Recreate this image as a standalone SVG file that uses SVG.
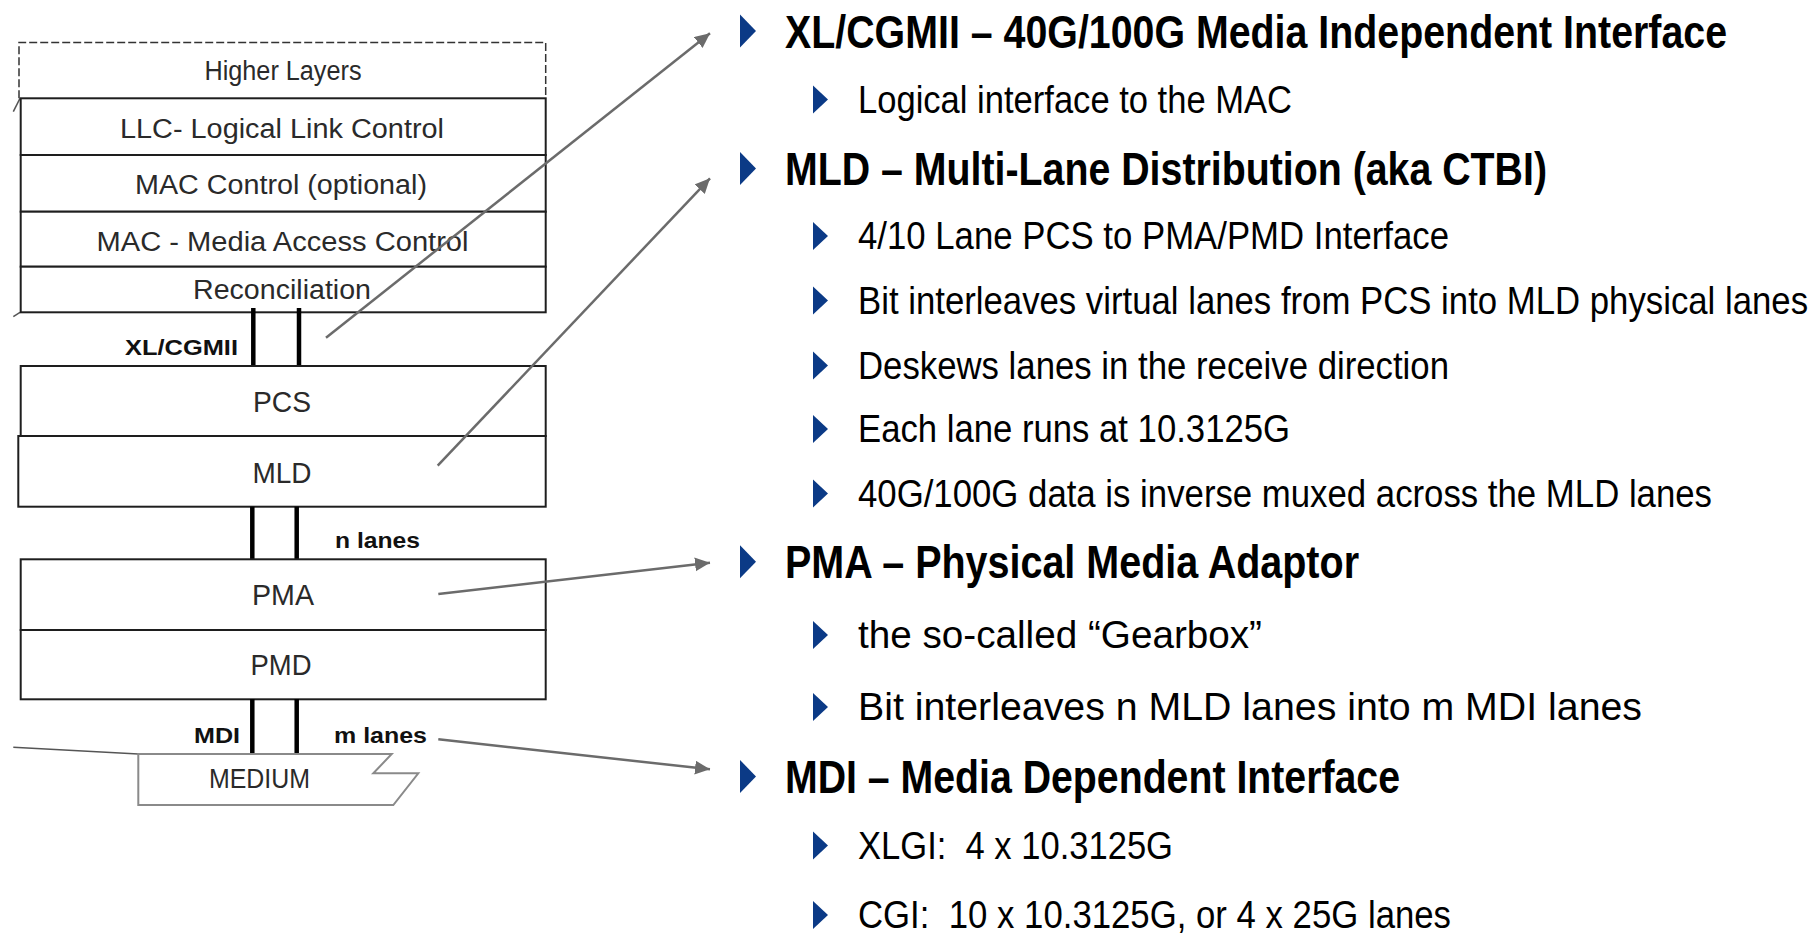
<svg xmlns="http://www.w3.org/2000/svg" width="1816" height="935" viewBox="0 0 1816 935">
<style>
.box{fill:#fff;stroke:#1e1e1e;stroke-width:2}
.bt{font-family:"Liberation Sans",Arial,sans-serif;fill:#2a2a2a;text-anchor:middle;font-size:27px}
.big{font-size:29px}
.lbl{font-family:"Liberation Sans",Arial,sans-serif;font-weight:bold;fill:#111;font-size:22px}
.bar{stroke:#000;stroke-width:4.5}
.con{stroke:#6b6b6b;stroke-width:2.5;fill:none}
.frag{stroke:#555;stroke-width:1.5;fill:none}
.h1{font-family:"Liberation Sans",Arial,sans-serif;font-weight:bold;fill:#000;font-size:46px}
.h2{font-family:"Liberation Sans",Arial,sans-serif;fill:#000;font-size:38px}
.tri{fill:#0b3a86}
</style>
<defs>
<marker id="arr" markerUnits="userSpaceOnUse" markerWidth="16" markerHeight="16" refX="15" refY="7" orient="auto">
<path d="M0,0 L15,7 L0,14 z" fill="#6b6b6b"/>
</marker>
</defs>

<g id="fragments">
<line class="frag" x1="13.3" y1="111.7" x2="20" y2="98.3"/>
<line class="frag" x1="13.3" y1="316.7" x2="20" y2="312.3"/>
<line class="frag" x1="13.3" y1="747.3" x2="138.3" y2="754"/>
</g>

<g id="higher-layers">
<path d="M19,98.3 L19,42.5 L545.7,42.5 L545.7,98.3" fill="none" stroke="#333" stroke-width="1.5" stroke-dasharray="8 3"/>
<text class="bt" x="283" y="80" font-size="23" textLength="157" lengthAdjust="spacingAndGlyphs">Higher Layers</text>
</g>
<g id="llc">
<rect class="box" x="20.7" y="98.3" width="525" height="56.7"/>
<text class="bt" x="282" y="137.7" textLength="324" lengthAdjust="spacingAndGlyphs">LLC- Logical Link Control</text>
</g>
<g id="mac-control">
<rect class="box" x="20.7" y="155" width="525" height="56.7"/>
<text class="bt" x="281" y="194.3" textLength="292" lengthAdjust="spacingAndGlyphs">MAC Control (optional)</text>
</g>
<g id="mac">
<rect class="box" x="20.7" y="211.7" width="525" height="55"/>
<text class="bt" x="282.5" y="250.7" textLength="372" lengthAdjust="spacingAndGlyphs">MAC - Media Access Control</text>
</g>
<g id="reconciliation">
<rect class="box" x="20.7" y="266.7" width="525" height="45.6"/>
<text class="bt" x="282" y="299.3" textLength="178" lengthAdjust="spacingAndGlyphs">Reconciliation</text>
</g>

<g id="xlcgmii-if">
<line class="bar" x1="253.3" y1="308" x2="253.3" y2="366.7"/>
<line class="bar" x1="299" y1="308" x2="299" y2="366.7"/>
<text class="lbl" x="125" y="355" textLength="113" lengthAdjust="spacingAndGlyphs">XL/CGMII</text>
</g>

<g id="pcs">
<rect class="box" x="20.7" y="366" width="525" height="70"/>
<text class="bt big" x="282" y="411.7" textLength="58" lengthAdjust="spacingAndGlyphs">PCS</text>
</g>
<g id="mld">
<rect class="box" x="18.3" y="436" width="527.4" height="70.7"/>
<text class="bt big" x="282" y="483.3" textLength="59" lengthAdjust="spacingAndGlyphs">MLD</text>
</g>

<g id="n-lanes-if">
<line class="bar" x1="252.3" y1="506.7" x2="252.3" y2="559.3"/>
<line class="bar" x1="296.7" y1="506.7" x2="296.7" y2="559.3"/>
<text class="lbl" x="335" y="548.3" textLength="85" lengthAdjust="spacingAndGlyphs">n lanes</text>
</g>

<g id="pma">
<rect class="box" x="20.7" y="559.3" width="525" height="70.7"/>
<text class="bt big" x="283" y="605" textLength="62" lengthAdjust="spacingAndGlyphs">PMA</text>
</g>
<g id="pmd">
<rect class="box" x="20.7" y="630" width="525" height="69.3"/>
<text class="bt big" x="281" y="675" textLength="61" lengthAdjust="spacingAndGlyphs">PMD</text>
</g>

<g id="mdi-if">
<line class="bar" x1="252.3" y1="699" x2="252.3" y2="755"/>
<line class="bar" x1="296.7" y1="699" x2="296.7" y2="755"/>
<text class="lbl" x="194" y="743.3" textLength="46" lengthAdjust="spacingAndGlyphs">MDI</text>
<text class="lbl" x="334" y="743.3" textLength="93" lengthAdjust="spacingAndGlyphs">m lanes</text>
</g>

<g id="medium">
<path d="M138.3,754 L391.7,754 L373.3,773.3 L418.3,773.3 L393.3,805 L138.3,805 Z" fill="#fff" stroke="#8a8a8a" stroke-width="2"/>
<text class="bt" x="259.5" y="788.3" font-size="23" textLength="101" lengthAdjust="spacingAndGlyphs">MEDIUM</text>
</g>

<g id="connectors">
<line class="con" x1="326" y1="337.7" x2="710" y2="33.3" marker-end="url(#arr)"/>
<line class="con" x1="437.7" y1="465.7" x2="710" y2="178.3" marker-end="url(#arr)"/>
<line class="con" x1="438.3" y1="594" x2="710" y2="562.7" marker-end="url(#arr)"/>
<line class="con" x1="438.3" y1="739.3" x2="710" y2="769.3" marker-end="url(#arr)"/>
</g>

<g id="bullets">
<g id="b-xlcgmii">
<polygon class="tri" points="740,14.5 756,31 740,47.5"/>
<text class="h1" transform="translate(785,47.5) scale(0.855,1)" x="0" y="0" textLength="1101.8" lengthAdjust="spacingAndGlyphs">XL/CGMII – 40G/100G Media Independent Interface</text>
<polygon class="tri" points="813,85.5 828,99.5 813,113.5"/>
<text class="h2" x="858" y="112.5" textLength="434" lengthAdjust="spacingAndGlyphs">Logical interface to the MAC</text>
</g>
<g id="b-mld">
<polygon class="tri" points="740,152 756,168.5 740,185"/>
<text class="h1" x="785" y="185" textLength="762" lengthAdjust="spacingAndGlyphs">MLD – Multi-Lane Distribution (aka CTBI)</text>
<polygon class="tri" points="813,222 828,236 813,250"/>
<text class="h2" x="858" y="249" textLength="591" lengthAdjust="spacingAndGlyphs">4/10 Lane PCS to PMA/PMD Interface</text>
<polygon class="tri" points="813,286.5 828,300.5 813,314.5"/>
<text class="h2" transform="translate(858,313.5) scale(0.914,1)" x="0" y="0" textLength="1039.4" lengthAdjust="spacingAndGlyphs">Bit interleaves virtual lanes from PCS into MLD physical lanes</text>
<polygon class="tri" points="813,351.5 828,365.5 813,379.5"/>
<text class="h2" x="858" y="378.5" textLength="591" lengthAdjust="spacingAndGlyphs">Deskews lanes in the receive direction</text>
<polygon class="tri" points="813,415 828,429 813,443"/>
<text class="h2" x="858" y="442" textLength="432" lengthAdjust="spacingAndGlyphs">Each lane runs at 10.3125G</text>
<polygon class="tri" points="813,479.5 828,493.5 813,507.5"/>
<text class="h2" x="858" y="506.5" textLength="854" lengthAdjust="spacingAndGlyphs">40G/100G data is inverse muxed across the MLD lanes</text>
</g>
<g id="b-pma">
<polygon class="tri" points="740,545.3 756,561.8 740,578.3"/>
<text class="h1" x="785" y="578.3" textLength="574" lengthAdjust="spacingAndGlyphs">PMA – Physical Media Adaptor</text>
<polygon class="tri" points="813,621 828,635 813,649"/>
<text class="h2" x="858" y="648" textLength="404" lengthAdjust="spacingAndGlyphs">the so-called “Gearbox”</text>
<polygon class="tri" points="813,693 828,707 813,721"/>
<text class="h2" x="858" y="720" textLength="784" lengthAdjust="spacingAndGlyphs">Bit interleaves n MLD lanes into m MDI lanes</text>
</g>
<g id="b-mdi">
<polygon class="tri" points="740,760 756,776.5 740,793"/>
<text class="h1" x="785" y="793" textLength="615" lengthAdjust="spacingAndGlyphs">MDI – Media Dependent Interface</text>
<polygon class="tri" points="813,831.5 828,845.5 813,859.5"/>
<text class="h2" x="858" y="858.5" textLength="315" lengthAdjust="spacingAndGlyphs" xml:space="preserve">XLGI:  4 x 10.3125G</text>
<polygon class="tri" points="813,901 828,915 813,929"/>
<text class="h2" x="858" y="928" textLength="593" lengthAdjust="spacingAndGlyphs" xml:space="preserve">CGI:  10 x 10.3125G, or 4 x 25G lanes</text>
</g>
</g>
</svg>
